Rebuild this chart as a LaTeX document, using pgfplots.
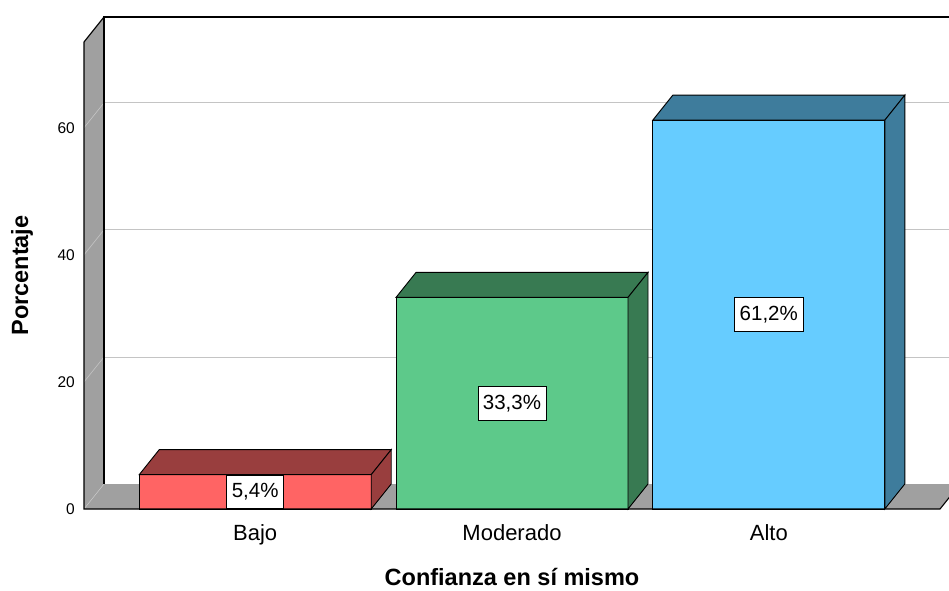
\documentclass[border=0pt]{standalone}
\usepackage{fontspec}
\setmainfont{Liberation Sans}
\usepackage{pgfplots}
\pgfplotsset{compat=1.18}

\definecolor{bajoF}{RGB}{255,100,100}
\definecolor{bajoD}{RGB}{153,62,62}
\definecolor{modF}{RGB}{93,201,138}
\definecolor{modD}{RGB}{56,122,82}
\definecolor{altoF}{RGB}{102,204,255}
\definecolor{altoD}{RGB}{62,124,156}
\definecolor{wall}{RGB}{160,160,160}
\definecolor{gridc}{RGB}{196,196,196}

\pgfdeclareplotmark{blank}{}

% depth of the 3d effect (canvas units) and pt per percent
\def\dep{(20pt,25pt)}
\def\yunit{6.3537}

\pgfplotsset{
  front3d/.style={ybar, bar width=232pt, bar shift=0pt, fill=#1, draw=black, line width=0.9pt},
  side3d/.style={scatter, only marks, mark=blank,
    visualization depends on={rawy \as \val},
    scatter/@pre marker code/.code={%
      \pgfmathsetlengthmacro\barh{\val*\yunit}%
      \filldraw[fill=#1, draw=black, line width=0.9pt]
        (-116pt,0pt) -- (-96pt,25pt) -- (136pt,25pt) -- (116pt,0pt) -- cycle;
      \filldraw[fill=#1, draw=black, line width=0.9pt]
        (116pt,0pt) -- (136pt,25pt) -- (136pt,25pt-\barh) -- (116pt,-\barh) -- cycle;
      \node[fill=white, draw=black, line width=0.7pt, anchor=center,
            font=\fontsize{20.5}{22}\selectfont,
            inner xsep=5pt, inner ysep=8pt, text height=14.7pt, text depth=3pt]
        at (0pt,-0.5*\barh)
        {\pgfmathprintnumber[fixed,fixed zerofill,precision=1,use comma]{\val}\%};
    },
    scatter/@post marker code/.code={}
  }
}

\begin{document}
\begin{tikzpicture}
\path[use as bounding box] (0,0) rectangle (949pt,590pt);
\clip (0,0) rectangle (949pt,590pt);
\begin{axis}[
  at={(84pt,81pt)}, anchor=south west,
  scale only axis, width=856pt, height=467pt,
  xmin=-0.6667, xmax=2.6667, ymin=0, ymax=73.5,
  clip=false,
  axis line style={draw=none},
  major tick length=0pt,
  xtick={0,1,2}, xticklabels={Bajo,Moderado,Alto},
  ytick={0,20,40,60},
  /pgf/number format/assume math mode=true,
  xticklabel style={font=\fontsize{22}{24}\selectfont, anchor=base, yshift=-31pt, inner sep=0pt},
  yticklabel style={font=\fontsize{15.5}{17}\selectfont, anchor=east, xshift=-9pt, inner sep=0pt},
  xlabel={Confianza en sí mismo},
  ylabel={Porcentaje},
  xlabel style={font=\bfseries\fontsize{23.5}{25}\selectfont, inner sep=1pt,
    at={(axis description cs:0.5,-0.1455)}, anchor=center},
  ylabel style={font=\bfseries\fontsize{23.5}{25}\selectfont,
    at={(axis description cs:-0.0724,0.5)}, anchor=center},
]
% left wall and floor
\fill[wall] (rel axis cs:0,0) -- (rel axis cs:0,1)
  -- ([shift=\dep]rel axis cs:0,1) -- ([shift=\dep]rel axis cs:0,0) -- cycle;
\fill[wall] (rel axis cs:0,0) -- (rel axis cs:1,0)
  -- ([shift=\dep]rel axis cs:1,0) -- ([shift=\dep]rel axis cs:0,0) -- cycle;
% grid on the back wall
\pgfplotsinvokeforeach{20,40,60}{
  \draw[gridc, line width=0.8pt] ([shift=\dep]axis cs:-0.6667,#1) -- ([shift=\dep]axis cs:2.6667,#1);
  \draw[gridc, line width=0.6pt] (axis cs:-0.6667,#1) -- ([shift=\dep]axis cs:-0.6667,#1);
}
\draw[gridc, line width=0.6pt] (rel axis cs:0,0) -- ([shift=\dep]rel axis cs:0,0);
% back frame
\draw[black, line width=1.1pt] ([shift=\dep]rel axis cs:0,0) -- ([shift=\dep]rel axis cs:0,1)
  -- ([shift=\dep]rel axis cs:1,1);
\draw[black, line width=1.1pt] (rel axis cs:0,1) -- ([shift=\dep]rel axis cs:0,1);

% bars
\addplot[front3d=bajoF] coordinates {(0,5.4)};
\addplot[side3d=bajoD] coordinates {(0,5.4)};
\addplot[front3d=modF] coordinates {(1,33.3)};
\addplot[side3d=modD] coordinates {(1,33.3)};
\addplot[front3d=altoF] coordinates {(2,61.2)};
\addplot[side3d=altoD] coordinates {(2,61.2)};

% front frame
\draw[black, line width=1.1pt] (rel axis cs:0,1) -- (rel axis cs:0,0) -- (rel axis cs:1,0)
  -- ([shift=\dep]rel axis cs:1,0);
\end{axis}
\end{tikzpicture}
\end{document}
